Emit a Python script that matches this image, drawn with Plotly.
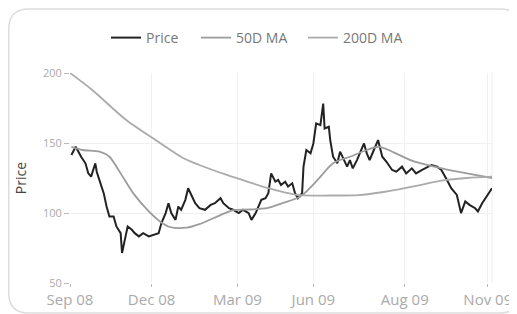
import plotly.graph_objects as go

# ---- data ----
tick_days = [0, 58, 119, 173, 238, 297]
tick_labels = ["Sep 08", "Dec 08", "Mar 09", "Jun 09", "Aug 09", "Nov 09"]

price_day = [1, 4, 6, 8, 11, 13, 15, 18, 19, 21, 24, 26, 28, 31, 33, 36, 37, 39, 41, 44,
             46, 49, 52, 56, 59, 63, 65, 68, 70, 72, 75, 77, 79, 82, 84, 87, 89, 92, 96, 100,
             103, 107, 109, 113, 116, 120, 123, 127, 129, 132, 134, 136, 139, 141, 143, 146, 148, 150, 153, 155,
             158, 160, 162, 165, 166, 168, 171, 173, 175, 178, 180, 181, 184, 185, 187, 190, 192, 194, 197, 199,
             201, 204, 206, 209, 211, 213, 216, 219, 222, 225, 229, 232, 236, 239, 243, 246, 250, 254, 257, 261,
             264, 268, 271, 275, 278, 281, 284, 288, 290, 293, 296, 300]
price_val = [141.4, 147.3, 143.8, 140.0, 135.5, 128.3, 126.0, 135.5, 129.5, 123.6, 114.0, 104.6, 97.5, 97.5, 90.4, 85.6, 71.4, 81.0, 90.4, 88.0,
             85.6, 83.3, 85.6, 83.3, 84.5, 85.6, 92.8, 99.9, 107.0, 99.9, 95.1, 104.6, 102.3, 109.4, 117.7, 111.7, 107.0, 103.4, 102.3, 105.8,
             107.0, 110.6, 107.0, 103.4, 102.3, 99.9, 102.3, 99.9, 95.1, 99.9, 104.6, 109.4, 110.6, 114.1, 128.3, 122.4, 123.6, 120.0, 122.4, 118.9,
             121.2, 114.1, 110.6, 114.1, 133.1, 145.0, 142.6, 149.7, 164.0, 162.8, 178.2, 160.4, 161.6, 152.1, 140.2, 135.5, 143.8, 139.0, 133.1, 137.8,
             131.9, 137.8, 142.6, 149.7, 142.6, 137.8, 145.0, 152.1, 140.2, 136.6, 130.7, 129.5, 133.1, 128.3, 131.9, 128.3, 130.7, 133.1, 134.3, 133.1,
             130.7, 123.6, 117.7, 112.9, 99.9, 108.2, 105.8, 103.4, 101.1, 107.0, 111.7, 117.7]

ma50_day = [1, 9, 21, 28, 36, 45, 55, 64, 71, 83, 92, 107, 116, 128, 140, 151, 164, 176, 187, 199,
            211, 220, 235, 244, 268, 284, 300]
ma50_val = [147.3, 145.0, 143.8, 140.2, 128.3, 114.0, 102.3, 94.0, 90.0, 89.5, 92.0, 98.5, 102.0, 102.5, 103.4, 107.0, 112.0, 123.6, 135.5, 140.2,
            145.0, 147.3, 141.0, 137.0, 131.0, 128.0, 125.0]

ma200_day = [0, 16, 40, 64, 80, 92, 112, 126, 140, 161, 185, 205, 223, 247, 263, 282, 300]
ma200_val = [200.0, 187.7, 166.4, 150.0, 139.5, 134.3, 127.0, 122.4, 118.0, 113.0, 112.5, 112.8, 115.0, 119.5, 123.0, 125.0, 126.0]

# ---- layout geometry (figure pixels) ----
W, H = 517, 314
L, R, T, B = 62, 33, 65, 39
pw, ph = W - L - R, H - T - B


def px2x(px):
    return (px - L) / pw


def py2y(py):
    return (H - B - py) / ph


def rounded_box(x0, y0, x1, y1, r):
    pts = [
        ("M", [(x0 + r, y0)]), ("L", [(x1 - r, y0)]), ("Q", [(x1, y0), (x1, y0 + r)]),
        ("L", [(x1, y1 - r)]), ("Q", [(x1, y1), (x1 - r, y1)]),
        ("L", [(x0 + r, y1)]), ("Q", [(x0, y1), (x0, y1 - r)]),
        ("L", [(x0, y0 + r)]), ("Q", [(x0, y0), (x0 + r, y0)]),
    ]
    s = ""
    for cmd, ps in pts:
        s += cmd + " " + " ".join(f"{px2x(a):.5f},{py2y(b):.5f}" for a, b in ps) + " "
    return s + "Z"


fig = go.Figure()
fig.add_trace(go.Scatter(x=price_day, y=price_val, mode="lines", name="Price", legend="legend",
                         line=dict(color="#222222", width=2)))
fig.add_trace(go.Scatter(x=ma50_day, y=ma50_val, mode="lines", name="50D MA", legend="legend2",
                         line=dict(color="#9c9c9c", width=1.8, shape="spline", smoothing=0.8)))
fig.add_trace(go.Scatter(x=ma200_day, y=ma200_val, mode="lines", name="200D MA", legend="legend3",
                         line=dict(color="#ababab", width=1.8, shape="spline", smoothing=0.8)))

leg_common = dict(orientation="h", xref="container", yref="container", xanchor="left",
                  y=1 - 30 / H, yanchor="middle", font=dict(size=14, color="#777777"),
                  bgcolor="rgba(0,0,0,0)")

fig.update_layout(
    width=W, height=H,
    margin=dict(l=L, r=R, t=T, b=B),
    paper_bgcolor="white", plot_bgcolor="white",
    font=dict(family="Open Sans", color="#888888"),
    showlegend=True,
    legend=dict(x=98 / W, **leg_common),
    legend2=dict(x=188 / W, **leg_common),
    legend3=dict(x=295 / W, **leg_common),
    xaxis=dict(range=[0, 300], tickmode="array", tickvals=tick_days, ticktext=tick_labels,
               automargin=False,
               showgrid=True, gridcolor="#f0f0f0", zeroline=False, showline=False,
               ticks="outside", ticklen=3, tickcolor="#bbbbbb",
               tickfont=dict(size=15, color="#aaaaaa")),
    yaxis=dict(range=[50, 200], tickvals=[50, 100, 150, 200], automargin=False,
               showgrid=True, gridcolor="#f0f0f0", zeroline=False, showline=False,
               ticks="outside", ticklen=5, tickcolor="#bbbbbb",
               tickfont=dict(size=11, color="#aaaaaa"),
               title=dict(text="Price", font=dict(size=14, color="#444444"), standoff=13)),
    shapes=[
        dict(type="path", xref="paper", yref="paper",
             path=rounded_box(0.75, 1, 512, 305, 20),
             line=dict(color="#dddddd", width=1.5), fillcolor="rgba(0,0,0,0)", layer="below"),
        dict(type="line", xref="paper", yref="paper", x0=1, x1=1, y0=0, y1=1,
             line=dict(color="#eeeeee", width=1), layer="below"),
    ],
)

fig.write_html("out.html")
